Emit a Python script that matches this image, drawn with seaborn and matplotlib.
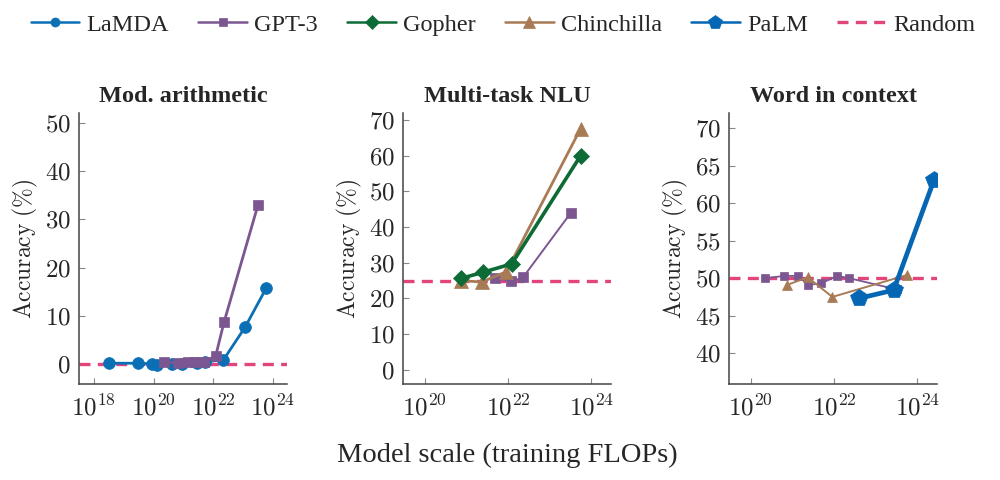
import numpy as np
import pandas as pd
import seaborn as sns
import matplotlib.pyplot as plt
from matplotlib.lines import Line2D
from matplotlib.ticker import FixedLocator, FuncFormatter, NullLocator

# log10 of training FLOPs
lamda_flops = [18.51, 19.49, 19.94, 20.10, 20.60, 20.94, 21.44, 21.72, 22.34, 23.06, 23.77]
gpt3_flops = [20.35, 20.81, 21.14, 21.38, 21.68, 22.08, 22.36, 23.50]
gopher_flops = [20.87, 21.39, 22.09, 23.74]
chinchilla_flops = [20.87, 21.37, 21.96, 23.74]
palm_flops = [22.59, 23.43, 24.40]

# Mod. arithmetic
arith_lamda = [0.2, 0.2, 0.1, -0.1, 0.1, 0.1, 0.2, 0.5, 0.9, 7.6, 15.7]
arith_gpt3 = [0.4, 0.3, 0.4, 0.4, 0.5, 1.7, 8.7, 33.0]
arith_random = 0

# Multi-task NLU
nlu_gpt3 = [25.8, 24.8, 25.9, 43.9]
nlu_gopher = [25.6, 27.3, 29.7, 60.0]
nlu_chinchilla = [25.0, 24.6, 27.5, 67.6]
nlu_random = 25

# Word in context
wic_gpt3 = [50.0, 50.3, 50.3, 49.1, 49.3, 50.3, 50.0, 48.5]
wic_chinchilla = [49.1, 50.1, 47.5, 50.4]
wic_palm = [47.3, 48.4, 63.1]
wic_random = 50

titles = ["Mod. arithmetic", "Multi-task NLU", "Word in context"]

colors = {
    "LaMDA": "#0b6fb6",
    "GPT-3": "#7b5690",
    "Gopher": "#0d6b36",
    "Chinchilla": "#a87b55",
    "PaLM": "#0567b4",
    "Random": "#e2457c",
}
markers = {"LaMDA": "o", "GPT-3": "s", "Gopher": "D", "Chinchilla": "^", "PaLM": "p"}
legend_ms = {"LaMDA": 6.5, "GPT-3": 6.0, "Gopher": 7.5, "Chinchilla": 9.0, "PaLM": 10.5}

sns.set_theme(style="ticks")
plt.rcParams["font.family"] = ["Liberation Serif", "DejaVu Serif"]
plt.rcParams["mathtext.fontset"] = "cm"

fig = plt.figure(figsize=(10, 4.8), dpi=100)
lefts = [0.079, 0.403, 0.729]
axes = [fig.add_axes([l, 0.2, 0.208, 0.5646]) for l in lefts]

panels = [
    [("LaMDA", lamda_flops, arith_lamda, 2.0, 8.5),
     ("GPT-3", gpt3_flops, arith_gpt3, 2.0, 7.0)],
    [("GPT-3", gpt3_flops[4:], nlu_gpt3, 1.4, 7.0),
     ("Chinchilla", chinchilla_flops, nlu_chinchilla, 2.0, 10.0),
     ("Gopher", gopher_flops, nlu_gopher, 2.6, 7.8)],
    [("GPT-3", gpt3_flops, wic_gpt3, 1.3, 6.0),
     ("Chinchilla", chinchilla_flops, wic_chinchilla, 1.4, 7.0),
     ("PaLM", palm_flops, wic_palm, 3.4, 13.0)],
]
randoms = [arith_random, nlu_random, wic_random]
xlims = [(17.5, 24.47), (19.48, 24.47), (19.48, 24.47)]
xticks = [[18, 20, 22, 24], [20, 22, 24], [20, 22, 24]]
yticks = [np.arange(0, 51, 10), np.arange(0, 71, 10), np.arange(40, 71, 5)]
ylims = [(-4.1, 52), (-4, 72), (35.9, 72)]

handles = {}
for ax, series, rnd, title, xl, xt, yt, yl in zip(axes, panels, randoms, titles,
                                                   xlims, xticks, yticks, ylims):
    ax.set_xscale("log")
    for name, fl, acc, lw, ms in series:
        df = pd.DataFrame({"flops": 10.0 ** np.array(fl), "acc": acc})
        sns.lineplot(data=df, x="flops", y="acc", ax=ax, color=colors[name],
                     marker=markers[name], markersize=ms, linewidth=lw,
                     markeredgecolor=colors[name], markeredgewidth=0.5,
                     label=name)
    ax.axhline(rnd, color=colors["Random"], ls="--", lw=2.4, dashes=(3.3, 2.2),
               label="Random", zorder=1)
    for h, l in zip(*ax.get_legend_handles_labels()):
        handles.setdefault(l, h)
    ax.get_legend().remove()

    ax.set_xlim(10.0 ** xl[0], 10.0 ** xl[1])
    ax.set_ylim(*yl)
    ax.xaxis.set_major_locator(FixedLocator([10.0 ** t for t in xt]))
    ax.xaxis.set_minor_locator(NullLocator())
    ax.xaxis.set_major_formatter(FuncFormatter(lambda v, p: r"$10^{%d}$" % round(np.log10(v))))
    ax.yaxis.set_major_locator(FixedLocator(yt))
    ax.yaxis.set_major_formatter(FuncFormatter(lambda v, p: r"$%d$" % v))
    ax.tick_params(direction="in", length=4, width=0.8, color="#888888",
                   labelsize=18, pad=6)
    ax.tick_params(axis="x", pad=8)
    ax.set_xlabel("")
    ax.set_ylabel(r"$\mathrm{Accuracy\ (\%)}$", fontsize=17, labelpad=3)
    ax.set_title(title, fontsize=17.5, fontweight="bold", pad=8)
    sns.despine(ax=ax)
    for s in ["left", "bottom"]:
        ax.spines[s].set_color("#444444")
        ax.spines[s].set_linewidth(1.1)

# legend proxies copied from the plotted lines, with legend-sized markers
order = ["LaMDA", "GPT-3", "Gopher", "Chinchilla", "PaLM", "Random"]
proxies = []
for name in order:
    p = Line2D([], [])
    p.update_from(handles[name])
    p.set_linewidth(1.8 if name != "Random" else 2.4)
    if name in legend_ms:
        p.set_markersize(legend_ms[name])
    proxies.append(p)

fig.legend(proxies, order, loc="center", bbox_to_anchor=(0.503, 0.948), ncol=6,
           frameon=False, fontsize=17.5, handlelength=2.0, handletextpad=0.3,
           columnspacing=1.2)

fig.text(0.5075, 0.052, "Model scale (training FLOPs)", ha="center", va="center",
         fontsize=20.5)

plt.savefig("out.png", dpi=100)
